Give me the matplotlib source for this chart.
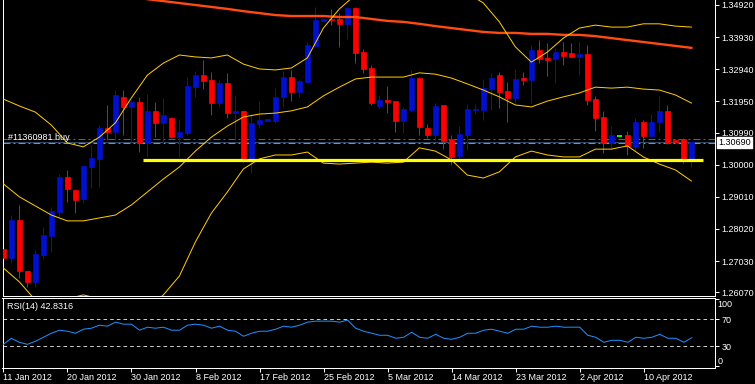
import matplotlib
matplotlib.use("Agg")
import matplotlib.pyplot as plt
import matplotlib.transforms as mtransforms

plt.rcParams["font.family"] = ["Liberation Sans", "DejaVu Sans"]
plt.rcParams["lines.scale_dashes"] = False

# --- data (daily EURUSD-style bars, index 0 = 11 Jan 2012) ---
date_labels = ["11 Jan 2012", "20 Jan 2012", "30 Jan 2012", "8 Feb 2012", "17 Feb 2012",
               "25 Feb 2012", "5 Mar 2012", "14 Mar 2012", "23 Mar 2012", "2 Apr 2012",
               "10 Apr 2012"]
date_bars = [0, 8, 16, 24, 32, 40, 48, 56, 64, 72, 80]

opens = [1.2741, 1.2713, 1.2830, 1.2673, 1.2639, 1.2722, 1.2781, 1.2854, 1.2962, 1.2922,
         1.2895, 1.2993, 1.3018, 1.3113, 1.3101, 1.3209, 1.3178, 1.3193, 1.3067, 1.3166,
         1.3129, 1.3144, 1.3086, 1.3098, 1.3240, 1.3276, 1.3261, 1.3190, 1.3252, 1.3160,
         1.3166, 1.3018, 1.3126, 1.3135, 1.3135, 1.3209, 1.3270, 1.3224, 1.3255, 1.3366,
         1.3443, 1.3449, 1.3449, 1.3434, 1.3483, 1.3347, 1.3298, 1.3181, 1.3199, 1.3196,
         1.3135, 1.3169, 1.3267, 1.3113, 1.3092, 1.3184, 1.3079, 1.3027, 1.3092, 1.3169,
         1.3169, 1.3233, 1.3276, 1.3227, 1.3206, 1.3267, 1.3261, 1.3353, 1.3329, 1.3326,
         1.3347, 1.3344, 1.3332, 1.3341, 1.3203, 1.3147, 1.3067, 1.3089, 1.3092, 1.3055,
         1.3132, 1.3089, 1.3132, 1.3166, 1.3076, 1.3079, 1.3018]
highs = [1.2790, 1.2845, 1.2876, 1.2673, 1.2737, 1.2808, 1.2870, 1.2972, 1.2984, 1.2922,
         1.3000, 1.3061, 1.3123, 1.3184, 1.3230, 1.3230, 1.3199, 1.3209, 1.3218, 1.3193,
         1.3206, 1.3147, 1.3141, 1.3270, 1.3289, 1.3323, 1.3286, 1.3261, 1.3283, 1.3215,
         1.3166, 1.3160, 1.3196, 1.3141, 1.3236, 1.3289, 1.3292, 1.3264, 1.3378, 1.3486,
         1.3449, 1.3480, 1.3467, 1.3486, 1.3486, 1.3357, 1.3307, 1.3215, 1.3243, 1.3196,
         1.3178, 1.3292, 1.3270, 1.3126, 1.3190, 1.3184, 1.3092, 1.3119, 1.3187, 1.3187,
         1.3264, 1.3283, 1.3286, 1.3255, 1.3295, 1.3286, 1.3369, 1.3384, 1.3375, 1.3360,
         1.3378, 1.3375, 1.3381, 1.3369, 1.3212, 1.3166, 1.3119, 1.3089, 1.3104, 1.3144,
         1.3138, 1.3156, 1.3212, 1.3184, 1.3076, 1.3083, 1.3070]
lows = [1.2670, 1.2697, 1.2651, 1.2624, 1.2624, 1.2710, 1.2731, 1.2839, 1.2885, 1.2851,
        1.2882, 1.2928, 1.2931, 1.3076, 1.3076, 1.3092, 1.3067, 1.3039, 1.3024, 1.3086,
        1.3067, 1.3083, 1.3024, 1.3092, 1.3209, 1.3233, 1.3153, 1.3178, 1.3144, 1.3076,
        1.3009, 1.2975, 1.3113, 1.3135, 1.3129, 1.3178, 1.3196, 1.3209, 1.3252, 1.3363,
        1.3443, 1.3430, 1.3363, 1.3387, 1.3313, 1.3283, 1.3184, 1.3175, 1.3160, 1.3101,
        1.3098, 1.3163, 1.3092, 1.3083, 1.3076, 1.3049, 1.3000, 1.3021, 1.3045, 1.3156,
        1.3138, 1.3169, 1.3175, 1.3132, 1.3190, 1.3246, 1.3190, 1.3313, 1.3273, 1.3252,
        1.3307, 1.3332, 1.3276, 1.3184, 1.3104, 1.3036, 1.3045, 1.3089, 1.3030, 1.3045,
        1.3052, 1.3086, 1.3101, 1.3064, 1.3070, 1.3006, 1.2993]
closes = [1.2713, 1.2830, 1.2673, 1.2639, 1.2725, 1.2784, 1.2858, 1.2962, 1.2925, 1.2891,
          1.2996, 1.3021, 1.3113, 1.3101, 1.3215, 1.3178, 1.3193, 1.3067, 1.3166, 1.3129,
          1.3153, 1.3086, 1.3101, 1.3243, 1.3276, 1.3258, 1.3190, 1.3252, 1.3160, 1.3166,
          1.3015, 1.3129, 1.3138, 1.3141, 1.3209, 1.3270, 1.3224, 1.3258, 1.3369, 1.3446,
          1.3449, 1.3446, 1.3434, 1.3483, 1.3344, 1.3295, 1.3190, 1.3199, 1.3193, 1.3135,
          1.3172, 1.3267, 1.3116, 1.3092, 1.3181, 1.3073, 1.3024, 1.3095, 1.3172, 1.3172,
          1.3236, 1.3267, 1.3224, 1.3206, 1.3264, 1.3261, 1.3353, 1.3326, 1.3323, 1.3347,
          1.3335, 1.3332, 1.3341, 1.3199, 1.3144, 1.3067, 1.3092, 1.3089, 1.3058, 1.3132,
          1.3089, 1.3132, 1.3166, 1.3067, 1.3070, 1.3018, 1.3070]

# Bollinger bands, read every second bar
band_bars = list(range(0, 87, 2))
bb_upper = [1.3202, 1.3181, 1.3162, 1.3122, 1.3067, 1.3055, 1.3085, 1.3129, 1.3206, 1.3276,
            1.3313, 1.3338, 1.3332, 1.3329, 1.3338, 1.3310, 1.3295, 1.3292, 1.3298, 1.3329,
            1.3421, 1.3480, 1.3523, 1.3535, 1.3535, 1.3535, 1.3514, 1.3520, 1.3526, 1.3529,
            1.3498, 1.3440, 1.3363, 1.3316, 1.3347, 1.3390, 1.3421, 1.3430, 1.3424, 1.3424,
            1.3434, 1.3434, 1.3427, 1.3424]
bb_middle = [1.2941, 1.2901, 1.2873, 1.2845, 1.2827, 1.2827, 1.2836, 1.2845, 1.2876, 1.2916,
             1.2956, 1.2993, 1.3042, 1.3085, 1.3119, 1.3147, 1.3156, 1.3159, 1.3166, 1.3178,
             1.3212, 1.3239, 1.3264, 1.3270, 1.3270, 1.3270, 1.3283, 1.3279, 1.3267, 1.3249,
             1.3230, 1.3209, 1.3184, 1.3178, 1.3196, 1.3209, 1.3221, 1.3239, 1.3236, 1.3239,
             1.3233, 1.3230, 1.3215, 1.3190]
bb_lower = [1.2682, 1.2639, 1.2583, 1.2568, 1.2587, 1.2599, 1.2587, 1.2562, 1.2546, 1.2556,
            1.2599, 1.2657, 1.2762, 1.2851, 1.2916, 1.2987, 1.3018, 1.3030, 1.3030, 1.3039,
            1.3005, 1.3002, 1.3005, 1.3008, 1.3005, 1.3008, 1.3052, 1.3042, 1.3015, 1.2968,
            1.2959, 1.2978, 1.3024, 1.3042, 1.3030, 1.3024, 1.3024, 1.3048, 1.3048, 1.3058,
            1.3024, 1.3002, 1.2984, 1.2950]

# slow moving average (thick orange line), every second bar
ma_bars = list(range(18, 87, 2))
ma_values = [1.3510, 1.3504, 1.3498, 1.3492, 1.3486, 1.3480, 1.3473, 1.3467, 1.3461, 1.3458,
             1.3458, 1.3458, 1.3455, 1.3455, 1.3449, 1.3443, 1.3440, 1.3434, 1.3427, 1.3421,
             1.3415, 1.3409, 1.3406, 1.3406, 1.3403, 1.3403, 1.3400, 1.3400, 1.3396, 1.3390,
             1.3384, 1.3378, 1.3372, 1.3366, 1.3360]

rsi_values = [33, 42, 36, 33, 37.5, 43.5, 49.5, 54, 52.5, 49.5,
              55.5, 57, 61.5, 60, 66, 63, 63, 54, 58.5, 57,
              58.5, 54, 54, 61.5, 63, 61.5, 57, 60, 54, 52.5,
              45, 49.5, 52.5, 52.5, 55.5, 60, 58.5, 61.5, 66, 67.5,
              67.5, 67.5, 66, 69, 57, 52.5, 49.5, 46.5, 46.5, 42,
              43.5, 51, 43.5, 42, 48, 42, 40.5, 43.5, 49.5, 49.5,
              54, 55.5, 52.5, 49.5, 55.5, 55.5, 60, 58.5, 58.5, 60,
              58.5, 58.5, 58.5, 46.5, 43.5, 36, 39, 39, 36, 43.5,
              42, 43.5, 48, 42, 42, 36, 42.8316]

price_ticks = [1.3492, 1.3393, 1.3294, 1.3195, 1.3099, 1.3000, 1.2901, 1.2802, 1.2703, 1.2607]
support_level = 1.3014
order_level = 1.3066
stop_level = 1.3078
bid_price = 1.3069
order_label = "#11360981 buy"

# --- layout (pixel based, 755x384 at dpi 100) ---
W, H = 755, 384
PX = 0.72  # one pixel in points
BULL, BEAR, DOJI = "#0010CC", "#FF0000", "#00FF00"
WHITE = "white"
FS = 6.5

fig = plt.figure(figsize=(W / 100, H / 100), dpi=100, facecolor="black")
ax = fig.add_axes([2.5 / W, (H - 296) / H, 712 / W, 296 / H], facecolor="black")
rsi_ax = fig.add_axes([2.5 / W, (H - 367.5) / H, 712.5 / W, 70 / H], facecolor="black")

x_lo, x_hi = -0.11, 88.89
for a in (ax, rsi_ax):
    a.set_xlim(x_lo, x_hi)
    for s in a.spines.values():
        s.set_color(WHITE)
        s.set_linewidth(PX)
ax.spines["top"].set_visible(False)
ax.set_ylim(1.25956, 1.35074)
rsi_ax.set_ylim(-1.5, 102.7)

# order / bid lines
ax.axhline(stop_level, color="#FF2020", lw=PX, dashes=(5, 2.2, 1.4, 2.2), zorder=1)
ax.axhline(order_level, color="#32CD32", lw=PX, dashes=(5, 2.2, 1.4, 2.2), zorder=1)
ax.axhline(bid_price, color="#2E4A68", lw=PX, zorder=1)
ax.text((8 - 3.4) / 8, 1.3076, order_label, color=WHITE, fontsize=FS, va="baseline",
        ha="left", zorder=6)

# candles
body_w = 0.62
for i, (o, h, l, c) in enumerate(zip(opens, highs, lows, closes)):
    if c > o:
        col = BULL
    elif c < o:
        col = BEAR
    else:
        col = DOJI
    if col == DOJI:
        ax.hlines(c, i - body_w / 2, i + body_w / 2, color=col, lw=1.4, zorder=3)
        continue
    ax.vlines(i, l, h, color=col, lw=PX, zorder=2)
    ax.bar(i, abs(c - o), bottom=min(o, c), width=body_w, color=col,
           edgecolor=col, linewidth=0.5, zorder=3)

# indicators
ax.plot(ma_bars, ma_values, color="#FF4A10", lw=1.7, zorder=4)
for band in (bb_upper, bb_middle, bb_lower):
    ax.plot(band_bars, band, color="#FFCC00", lw=PX, zorder=4)
ax.hlines(support_level, 17.5, 87.4, color="#FFFF00", lw=2.3, zorder=5)

# price axis
ax.set_xticks([])
ax.yaxis.tick_right()
ax.set_yticks(price_ticks)
ax.set_yticklabels([f"{v:.5f}" for v in price_ticks])
ax.tick_params(axis="y", colors=WHITE, labelcolor=WHITE, labelsize=FS, length=3,
               width=PX, pad=2)
trans = mtransforms.blended_transform_factory(ax.transAxes, ax.transData)
ax.text(1.0048, bid_price, f"{bid_price:.5f}", transform=trans, color="black",
        fontsize=FS, va="center", ha="left", zorder=7,
        bbox=dict(facecolor="white", edgecolor="white", pad=0.8))

# RSI panel
rsi_ax.plot(range(len(rsi_values)), rsi_values, color="#1E90FF", lw=PX, zorder=3)
for lvl in (70, 30):
    rsi_ax.axhline(lvl, color="#C8C8C8", lw=PX, dashes=(2.6, 2.2), zorder=2)
rsi_ax.text(0.0065, 0.93, f"RSI(14) {rsi_values[-1]:.4f}", transform=rsi_ax.transAxes,
            color=WHITE, fontsize=FS, va="top", ha="left")
rsi_ax.yaxis.tick_right()
rsi_ax.set_yticks([0, 30, 70, 100])
rsi_ax.set_yticklabels(["", "30", "70", ""])
rsi_ax.tick_params(axis="y", colors=WHITE, labelcolor=WHITE, labelsize=FS, length=3,
                   width=PX, pad=1.5)
rtrans = mtransforms.blended_transform_factory(rsi_ax.transAxes, rsi_ax.transData)
rsi_ax.text(1.0035, 93, "100", transform=rtrans, color=WHITE, fontsize=FS,
            va="center", ha="left")
rsi_ax.text(1.0035, 7.5, "0", transform=rtrans, color=WHITE, fontsize=FS,
            va="center", ha="left")

rsi_ax.set_xticks(date_bars)
rsi_ax.set_xticklabels(date_labels)
for lbl in rsi_ax.get_xticklabels():
    lbl.set_horizontalalignment("left")
rsi_ax.tick_params(axis="x", colors=WHITE, labelcolor=WHITE, labelsize=FS, length=3,
                   width=PX, pad=1)

fig.savefig("out.png", dpi=100, facecolor="black")
